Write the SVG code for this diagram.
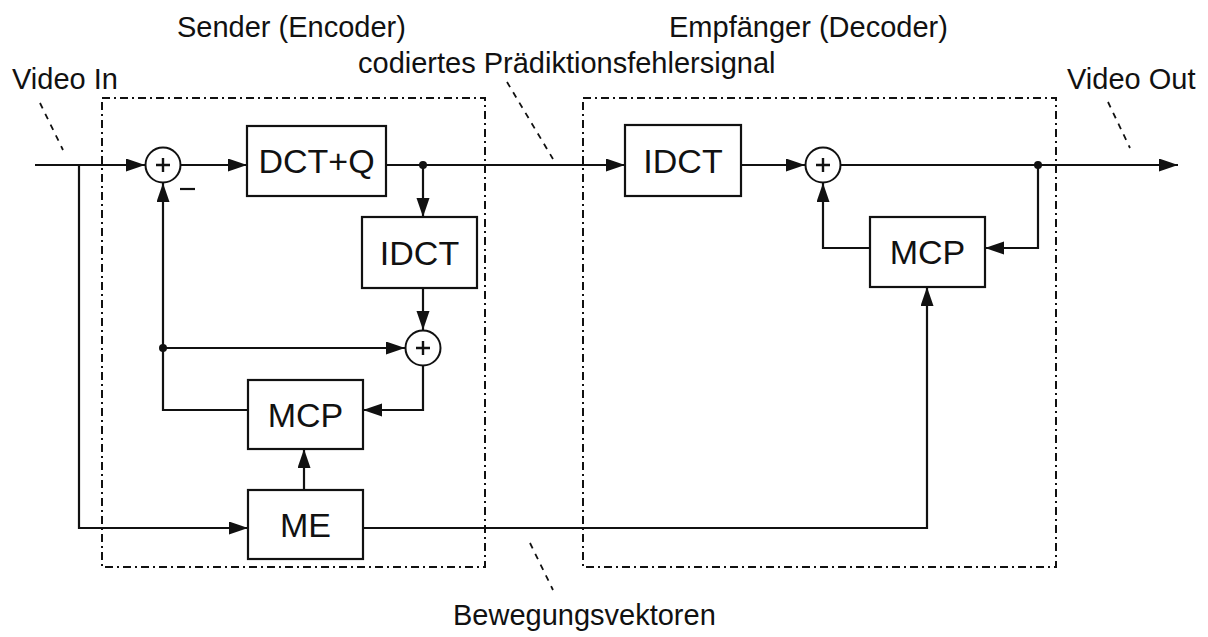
<svg xmlns="http://www.w3.org/2000/svg" width="1208" height="637" viewBox="0 0 1208 637">
  <style>
    .lbl { font-family: "Liberation Sans", Arial, sans-serif; font-size: 29px; fill: #111; }
    .blk text { font-family: "Liberation Sans", Arial, sans-serif; font-size: 34px; fill: #111; text-anchor: middle; }
    .blk rect { fill: #fff; stroke: #111; stroke-width: 2.2; }
    .sum circle { fill: #fff; stroke: #111; stroke-width: 2; }
    .sum path { stroke: #111; stroke-width: 2.4; fill: none; }
    .wire { fill: none; stroke: #111; stroke-width: 2.2; }
    .arr { marker-end: url(#head); }
    .frame { fill: none; stroke: #111; stroke-width: 2; stroke-dasharray: 8 4 2 4; }
    .lead { stroke: #111; stroke-width: 1.8; stroke-dasharray: 6 6; }
    .dot { fill: #111; }
  </style>
  <defs>
    <marker id="head" markerUnits="userSpaceOnUse" markerWidth="20" markerHeight="14" refX="19" refY="6.5" orient="auto">
      <path d="M0,0 L19,6.5 L0,13 Z" fill="#111"/>
    </marker>
  </defs>

  <rect width="1208" height="637" fill="#fff"/>

  <!-- sender / receiver frames -->
  <g id="frames">
    <rect class="frame" x="102" y="98" width="383" height="469"/>
    <rect class="frame" x="583" y="98" width="473" height="469"/>
  </g>

  <!-- labels and their leader lines -->
  <g id="labels">
    <text class="lbl" x="177" y="37">Sender (Encoder)</text>
    <text class="lbl" x="669" y="37">Empfänger (Decoder)</text>
    <text class="lbl" x="358" y="73">codiertes Prädiktionsfehlersignal</text>
    <text class="lbl" x="12" y="89">Video In</text>
    <text class="lbl" x="1067" y="89">Video Out</text>
    <text class="lbl" x="453" y="625">Bewegungsvektoren</text>
    <line class="lead" x1="40" y1="103" x2="63" y2="150"/>
    <line class="lead" x1="507" y1="82" x2="553" y2="159"/>
    <line class="lead" x1="1108" y1="102" x2="1130" y2="148"/>
    <line class="lead" x1="530" y1="543" x2="553" y2="590"/>
  </g>

  <!-- connectors -->
  <g id="connectors">
    <path class="wire arr" d="M35,165 H145"/>
    <path class="wire arr" d="M181,165 H247"/>
    <path class="wire arr" d="M386,165 H625"/>
    <path class="wire arr" d="M423,165 V217"/>
    <path class="wire arr" d="M423,288 V330"/>
    <path class="wire arr" d="M163,348 H405"/>
    <path class="wire arr" d="M248,410 H163 V183"/>
    <path class="wire arr" d="M423,366 V410 H363"/>
    <path class="wire arr" d="M304,490 V449"/>
    <path class="wire arr" d="M79,165 V528 H248"/>
    <path class="wire arr" d="M363,528 H927 V287"/>
    <path class="wire arr" d="M741,165 H805"/>
    <path class="wire arr" d="M841,165 H1178"/>
    <path class="wire arr" d="M1038,165 V248 H985"/>
    <path class="wire arr" d="M870,248 H823 V183"/>
    <circle class="dot" cx="423" cy="165" r="4"/>
    <circle class="dot" cx="163" cy="348" r="4"/>
    <circle class="dot" cx="1038" cy="165" r="4"/>
    <path class="wire" d="M180,189 H195" stroke-width="2.6"/>
  </g>

  <!-- encoder -->
  <g id="enc-sum" class="sum">
    <circle cx="163" cy="165" r="17.5"/>
    <path d="M156,165 H170 M163,158 V172"/>
  </g>
  <g id="enc-dctq" class="blk">
    <rect x="247" y="126" width="139" height="70"/>
    <text x="316.5" y="173">DCT+Q</text>
  </g>
  <g id="enc-idct" class="blk">
    <rect x="362" y="217" width="115" height="71"/>
    <text x="419.5" y="264.5">IDCT</text>
  </g>
  <g id="enc-add" class="sum">
    <circle cx="423" cy="348" r="17.5"/>
    <path d="M416,348 H430 M423,341 V355"/>
  </g>
  <g id="enc-mcp" class="blk">
    <rect x="248" y="380" width="115" height="69"/>
    <text x="305.5" y="426.5">MCP</text>
  </g>
  <g id="enc-me" class="blk">
    <rect x="248" y="490" width="115" height="69"/>
    <text x="305.5" y="536.5">ME</text>
  </g>

  <!-- decoder -->
  <g id="dec-idct" class="blk">
    <rect x="625" y="125" width="116" height="71"/>
    <text x="683" y="172.5">IDCT</text>
  </g>
  <g id="dec-sum" class="sum">
    <circle cx="823" cy="165" r="17.5"/>
    <path d="M816,165 H830 M823,158 V172"/>
  </g>
  <g id="dec-mcp" class="blk">
    <rect x="870" y="217" width="115" height="70"/>
    <text x="927.5" y="264">MCP</text>
  </g>
</svg>
